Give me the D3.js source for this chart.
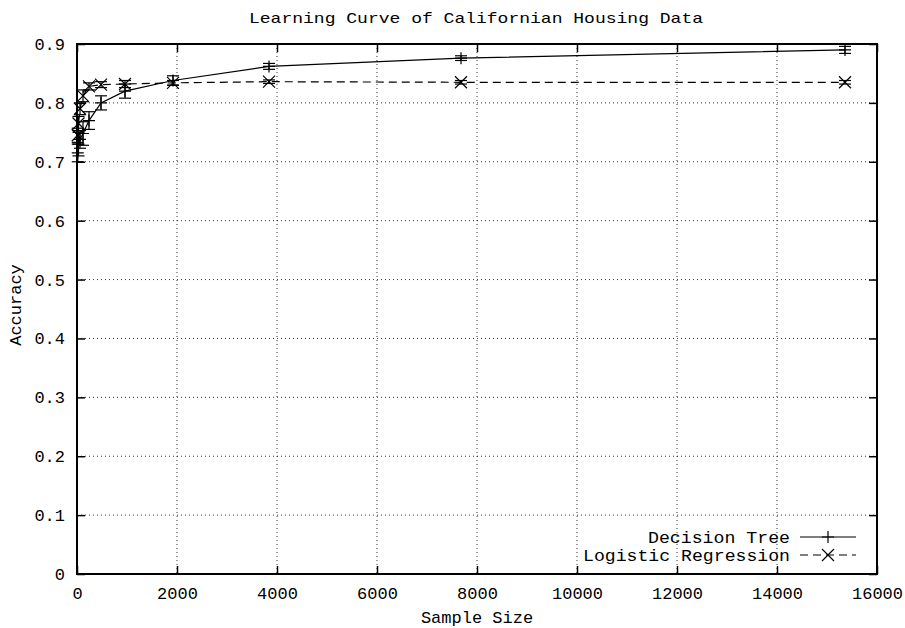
<!DOCTYPE html>
<html>
<head>
<meta charset="utf-8">
<script src="https://cdn.jsdelivr.net/npm/d3@7"></script>
<style>
	body { margin: 0; background: #fff; }
	text { font-family: "Liberation Mono", "DejaVu Sans Mono", monospace; fill: #000; }
</style>
</head>
<body>
<svg id="chart" width="905" height="628"></svg>
<script>
// data
var sampleSizes	= [15, 30, 60, 120, 240, 480, 960, 1920, 3840, 7680, 15360];
var treeAcc	= [0.715, 0.730, 0.738, 0.748, 0.770, 0.800, 0.820, 0.838, 0.862, 0.876, 0.890];
var treeErr	= [0.015, 0.020, 0.015, 0.020, 0.015, 0.012, 0.012, 0.008, 0.005, 0.004, 0.006];
var logAcc	= [0.745, 0.765, 0.790, 0.812, 0.828, 0.831, 0.832, 0.834, 0.836, 0.835, 0.835];
var logErr	= [0.012, 0.012, 0.010, 0.010, 0.006, 0.005, 0.006, 0.004, 0.003, 0.003, 0.003];
var xTicks	= [0, 2000, 4000, 6000, 8000, 10000, 12000, 14000, 16000];
var yTicks	= [0, 0.1, 0.2, 0.3, 0.4, 0.5, 0.6, 0.7, 0.8, 0.9];

(function() {
var	svg	= d3.select("#chart"),
	pL	= 77, pR = 877, pT = 44, pB = 574,
	x	= d3.scaleLinear().domain([0, 16000]).range([pL, pR]),
	y	= d3.scaleLinear().domain([0, 0.9]).range([pB, pT]),
	fmtY	= function(d) { return d === 0 ? "0" : d3.format(".1f")(d); };

// grid
var grid = svg.append("g").attr("stroke", "#000").attr("stroke-width", 0.8).attr("stroke-dasharray", "1,3");
grid.selectAll(".gx").data(xTicks.slice(1, -1)).enter().append("line")
	.attr("x1", x).attr("x2", x).attr("y1", pT).attr("y2", pB);
grid.selectAll(".gy").data(yTicks.slice(1, -1)).enter().append("line")
	.attr("y1", y).attr("y2", y).attr("x1", pL).attr("x2", pR);

// axes, ticks mirrored inside the frame
function plain(g) {
	g.select(".domain").remove();
	g.selectAll(".tick line").attr("stroke-width", 1.5);
	g.selectAll(".tick text").style("font-size", "17px");
}
svg.append("g").attr("transform", "translate(0," + pB + ")")
	.call(d3.axisBottom(x).tickValues(xTicks).tickSize(-8).tickPadding(13).tickFormat(d3.format("d"))).call(plain);
svg.append("g").attr("transform", "translate(" + pL + ",0)")
	.call(d3.axisLeft(y).tickValues(yTicks).tickSize(-8).tickPadding(12).tickFormat(fmtY)).call(plain);
svg.append("g").attr("transform", "translate(0," + pT + ")")
	.call(d3.axisTop(x).tickValues(xTicks).tickSize(-8).tickFormat("")).call(plain);
svg.append("g").attr("transform", "translate(" + pR + ",0)")
	.call(d3.axisRight(y).tickValues(yTicks).tickSize(-8).tickFormat("")).call(plain);

svg.append("rect").attr("x", pL).attr("y", pT).attr("width", pR - pL).attr("height", pB - pT)
	.attr("fill", "none").attr("stroke", "#000").attr("stroke-width", 2);

// series
function series(acc, err, dash, marker) {
	var g = svg.append("g").attr("stroke", "#000").attr("fill", "none");
	var pts = sampleSizes.map(function(s, i) { return {x: s, v: acc[i], e: err[i]}; });
	g.append("path").datum(pts)
		.attr("stroke-width", 1.2)
		.attr("stroke-dasharray", dash)
		.attr("d", d3.line().x(function(d) { return x(d.x); }).y(function(d) { return y(d.v); }));
	var bars = g.selectAll(".eb").data(pts).enter().append("g").attr("stroke-width", 1.2);
	bars.append("line").attr("x1", function(d) { return x(d.x); }).attr("x2", function(d) { return x(d.x); })
		.attr("y1", function(d) { return y(d.v - d.e); }).attr("y2", function(d) { return y(d.v + d.e); });
	[-1, 1].forEach(function(sgn) {
		bars.append("line")
			.attr("x1", function(d) { return x(d.x) - 6; }).attr("x2", function(d) { return x(d.x) + 6; })
			.attr("y1", function(d) { return y(d.v + sgn * d.e); }).attr("y2", function(d) { return y(d.v + sgn * d.e); });
	});
	bars.append("path").attr("transform", function(d) { return "translate(" + x(d.x) + "," + y(d.v) + ")"; })
		.attr("d", marker);
}
var plusMark	= "M-6,0H6M0,-6V6",
	crossMark	= "M-6,-6L6,6M-6,6L6,-6";
series(treeAcc, treeErr, null, plusMark);
series(logAcc, logErr, "8,5", crossMark);

// legend
var legend = svg.append("g");
[["Decision Tree", null, plusMark, 537, 142], ["Logistic Regression", "8,5", crossMark, 555, 207]].forEach(function(l) {
	legend.append("text").attr("x", 790).attr("y", l[3]).attr("dy", "0.35em")
		.attr("text-anchor", "end").attr("textLength", l[4]).attr("lengthAdjust", "spacingAndGlyphs")
		.style("font-size", "16px").text(l[0]);
	legend.append("line").attr("x1", 800).attr("x2", 856).attr("y1", l[3]).attr("y2", l[3])
		.attr("stroke", "#000").attr("stroke-width", 1.2).attr("stroke-dasharray", l[1]);
	legend.append("path").attr("transform", "translate(828," + l[3] + ")").attr("d", l[2])
		.attr("stroke", "#000").attr("stroke-width", 1.2).attr("fill", "none");
});

// labels
svg.append("text").attr("x", 476).attr("y", 18).attr("dy", "0.35em").attr("text-anchor", "middle")
	.attr("textLength", 454).attr("lengthAdjust", "spacingAndGlyphs")
	.style("font-size", "15px").text("Learning Curve of Californian Housing Data");
svg.append("text").attr("x", 477).attr("y", 617).attr("dy", "0.35em").attr("text-anchor", "middle")
	.style("font-size", "17px").text("Sample Size");
svg.append("text").attr("transform", "translate(15,305) rotate(-90)").attr("dy", "0.35em")
	.attr("text-anchor", "middle").style("font-size", "17px").text("Accuracy");
})();
</script>
</body>
</html>
